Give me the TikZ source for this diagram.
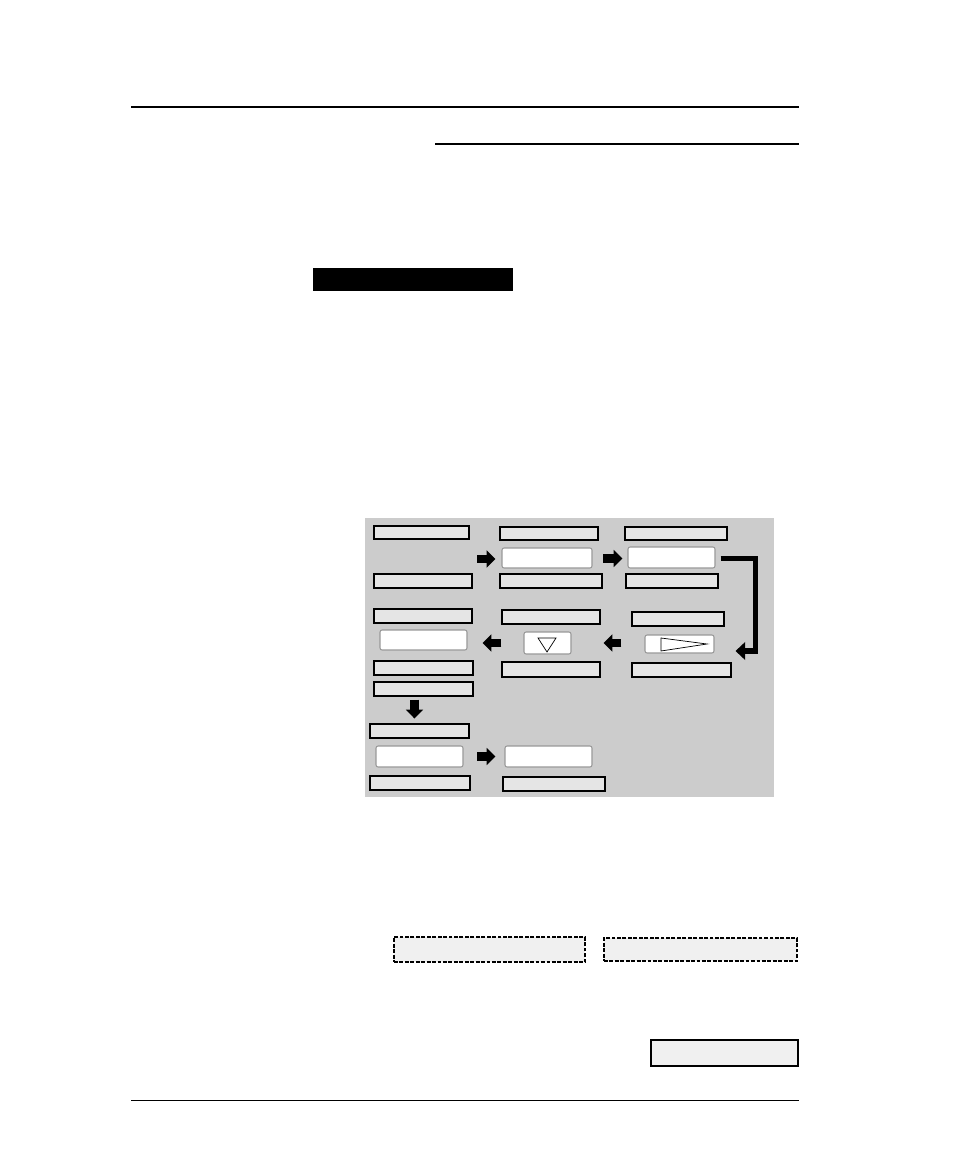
\documentclass[tikz,border=0pt]{standalone}
\usepackage{tikz}
\usetikzlibrary{fit,calc}
\usetikzlibrary{arrows.meta}
\tikzstyle{lbl}=[draw=black, fill=black!10, line width=0.6pt, inner sep=0pt]
\tikzstyle{win}=[draw=black!40, fill=white, line width=0.6pt, rounded corners=1.2pt, inner sep=0pt]
\tikzstyle{note}=[draw=black, fill=black!6, line width=0.9pt, dash pattern=on 2.2pt off 0.9pt, inner sep=0pt]
\tikzstyle{blk}=[line width=4.6pt, -{Triangle[length=5pt,width=9.5pt]}]
\tikzstyle{elbow}=[line width=3pt, miter limit=4, -{Triangle[length=5.5pt,width=10pt]}]

\begin{document}
\begin{tikzpicture}[x=0.02cm,y=-0.02cm]
\useasboundingbox (0,0) rectangle (954,1168);
% rules and title bar
\draw[line width=1.2pt] (131,107) -- (799,107);
\draw[line width=0.6pt] (435,144) -- (799,144);
\node[fill=black, inner sep=0pt, fit={(313,268) (513,291)}] (bar) {};
% panel
\node[fill=black!20, inner sep=0pt, fit={(365,518) (774,797)}] (panel) {};
% first row
\node[lbl, fit={(374,526) (469,539)}] (a1) {};
\node[lbl, fit={(500,527) (598,540)}] (b1) {};
\node[lbl, fit={(625,527) (727,540)}] (c1) {};
\node[win, fit={(502,548) (592,568)}] (w1) {};
\node[win, fit={(628,547) (715,568)}] (w2) {};
\node[lbl, fit={(374,574) (472,588)}] (a2) {};
\node[lbl, fit={(500,574) (602,588)}] (b2) {};
\node[lbl, fit={(626,574) (718,588)}] (c2) {};
\draw[blk] ($(w1.west)+(-24,1)$) -- ($(w1.west)+(-6,1)$);
\draw[blk] ($(w2.west)+(-24,1)$) -- ($(w2.west)+(-5,1)$);
% second row
\node[lbl, fit={(374,609) (472,623)}] (a3) {};
\node[lbl, fit={(502,610) (600,624)}] (b3) {};
\node[lbl, fit={(632,612) (724,626)}] (c3) {};
\node[win, fit={(380,630) (467,650)}] (w3) {};
\node[win, fit={(524,632) (571,654)}] (t1) {};
\node[win, fit={(645,635) (714,653)}] (t2) {};
\draw[line width=0.4pt] ($(t1)+(-9.5,-5)$) -- ($(t1)+(8.5,-5)$) -- ($(t1)+(-0.5,9)$) -- cycle;
\draw[line width=0.4pt] ($(t2)+(-18.5,-6)$) -- ($(t2)+(-18.5,7)$) -- ($(t2)+(27.5,0)$) -- cycle;
\node[lbl, fit={(374,661) (473,675)}] (a4) {};
\node[lbl, fit={(502,662) (600,677)}] (b4) {};
\node[lbl, fit={(632,663) (731,677)}] (c4) {};
\draw[blk] ($(t2.west)+(-23,-1)$) -- ($(t2.west)+(-41,-1)$);
\draw[blk] ($(t1.west)+(-22,0)$) -- ($(t1.west)+(-41,0)$);
\draw[elbow] ($(w2.east)+(5,1)$) -- ++(35,0) |- ($(t2.east)+(21,7)$);
% third row
\node[lbl, fit={(374,682) (473,696)}] (a5) {};
\draw[blk] ($(a5.south west)+(41,3)$) -- ($(a5.south west)+(41,22)$);
\node[lbl, fit={(370,724) (469,738)}] (a6) {};
\node[win, fit={(376,746) (463,767)}] (w4) {};
\node[win, fit={(505,746) (592,767)}] (w5) {};
\node[lbl, fit={(370,776) (470,790)}] (a7) {};
\node[lbl, fit={(503,777) (605,791)}] (b7) {};
\draw[blk] ($(w5.west)+(-27,0)$) -- ($(w5.west)+(-9,0)$);
% notes
\node[note, fit={(394,937) (585,962)}] (n1) {};
\node[note, fit={(604,938) (797,961)}] (n2) {};
\node[draw=black, fill=black!6, line width=0.8pt, inner sep=0pt, fit={(651,1040) (798,1066)}] (n3) {};
\draw[line width=0.6pt] (131,1100.5) -- (799,1100.5);
\end{tikzpicture}
\end{document}
